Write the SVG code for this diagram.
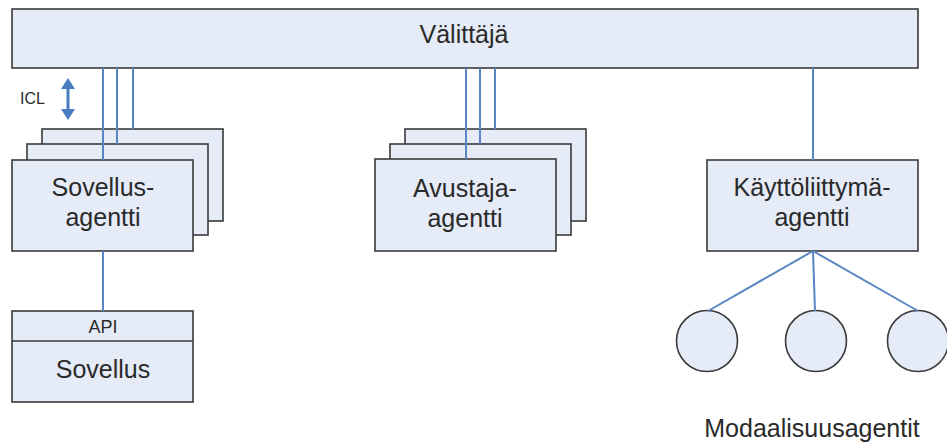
<svg xmlns="http://www.w3.org/2000/svg" width="947" height="446" viewBox="0 0 947 446">
  <defs>
    <style>
      .box { fill: #e5ebf7; stroke: #3a3a3a; stroke-width: 1.6; }
      .lbl { font-family: "Liberation Sans", Arial, sans-serif; font-size: 25px; fill: #2a2a2a; text-anchor: middle; }
      .small { font-family: "Liberation Sans", Arial, sans-serif; font-size: 18px; fill: #2a2a2a; text-anchor: middle; }
      .link { stroke: #5a86c3; stroke-width: 2; fill: none; }
      .icl { fill: #4a7ec2; }
    </style>
  </defs>

  <rect width="947" height="446" fill="#ffffff"/>

  <!-- broker bar -->
  <g id="valittaja">
    <rect class="box" x="12" y="9" width="906" height="59"/>
    <text class="lbl" x="464" y="43">Välittäjä</text>
  </g>

  <!-- application agents (stacked) -->
  <g id="sovellusagentti">
    <rect class="box" x="42" y="129" width="181" height="92"/>
    <rect class="box" x="27" y="144" width="181" height="91"/>
    <rect class="box" x="12" y="160" width="181" height="91"/>
    <text class="lbl" x="103" y="196">Sovellus-</text>
    <text class="lbl" x="103" y="226">agentti</text>
  </g>

  <!-- helper agents (stacked) -->
  <g id="avustaja-agentti">
    <rect class="box" x="405" y="129" width="181" height="92"/>
    <rect class="box" x="390" y="144" width="181" height="91"/>
    <rect class="box" x="375" y="159" width="181" height="92"/>
    <text class="lbl" x="465" y="197">Avustaja-</text>
    <text class="lbl" x="465" y="227">agentti</text>
  </g>

  <!-- user interface agent -->
  <g id="kayttoliittyma-agentti">
    <rect class="box" x="707" y="160" width="211" height="91"/>
    <text class="lbl" x="812" y="196">Käyttöliittymä-</text>
    <text class="lbl" x="812" y="226">agentti</text>
  </g>

  <!-- application with its API -->
  <g id="sovellus">
    <rect class="box" x="12" y="311" width="181" height="91"/>
    <line x1="12" y1="341" x2="193" y2="341" stroke="#3a3a3a" stroke-width="1.6"/>
    <text class="small" x="103" y="333">API</text>
    <text class="lbl" x="103" y="378">Sovellus</text>
  </g>

  <!-- modality agents -->
  <g id="modaalisuusagentit">
    <circle class="box" cx="707" cy="341" r="30.5"/>
    <circle class="box" cx="816" cy="341" r="30.5"/>
    <circle class="box" cx="918" cy="341" r="30.5"/>
    <text class="lbl" x="812" y="437">Modaalisuusagentit</text>
  </g>

  <!-- ICL label and double arrow -->
  <g id="icl">
    <text x="20" y="104" font-family="'Liberation Sans', Arial, sans-serif" font-size="16" fill="#2a2a2a">ICL</text>
    <rect class="icl" x="66.5" y="86" width="3" height="26"/>
    <polygon class="icl" points="61,89 75,89 68,78"/>
    <polygon class="icl" points="61,109 75,109 68,120"/>
  </g>

  <!-- connectors -->
  <g id="connectors">
    <line class="link" x1="103" y1="68" x2="103" y2="160"/>
    <line class="link" x1="117" y1="68" x2="117" y2="144"/>
    <line class="link" x1="133" y1="68" x2="133" y2="129"/>
    <line class="link" x1="466" y1="68" x2="466" y2="159"/>
    <line class="link" x1="480" y1="68" x2="480" y2="144"/>
    <line class="link" x1="495" y1="68" x2="495" y2="129"/>
    <line class="link" x1="813" y1="68" x2="813" y2="160"/>
    <line class="link" x1="103" y1="251" x2="103" y2="311"/>
    <line class="link" x1="813" y1="251" x2="708" y2="311"/>
    <line class="link" x1="813" y1="251" x2="815" y2="311"/>
    <line class="link" x1="813" y1="251" x2="918" y2="311"/>
  </g>
</svg>
